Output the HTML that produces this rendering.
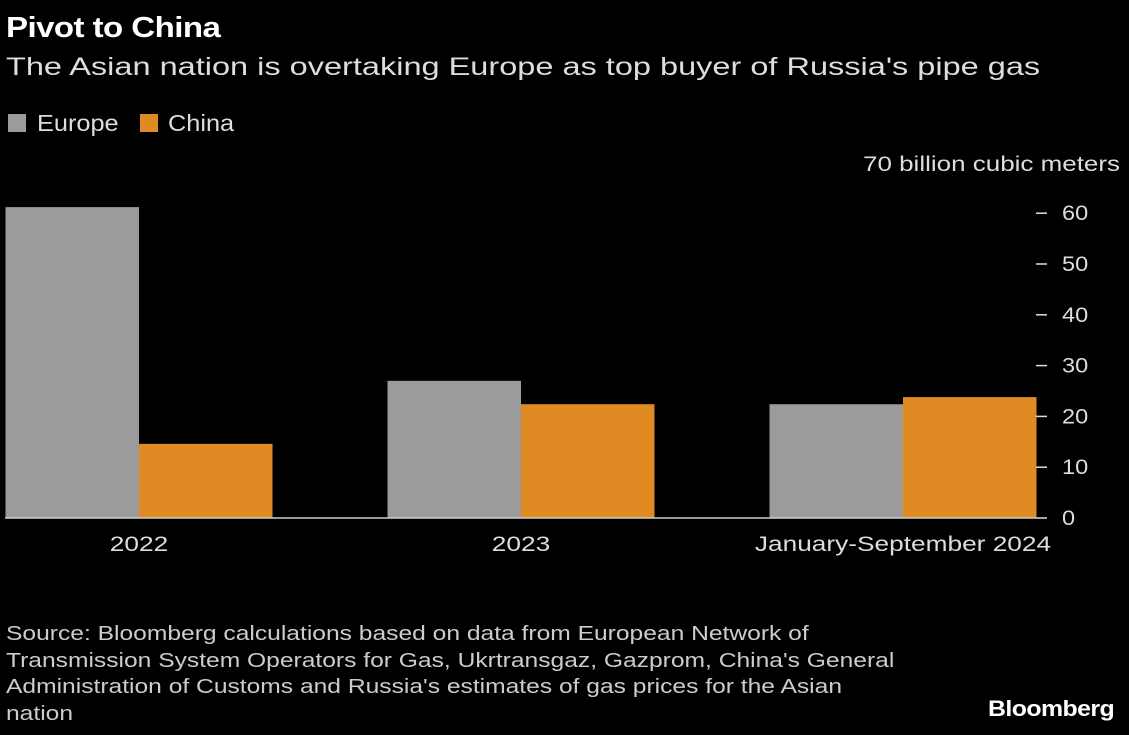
<!DOCTYPE html>
<html><head><meta charset="utf-8"><style>
body{margin:0;background:#000;width:1129px;height:735px;overflow:hidden;font-family:"Liberation Sans",sans-serif;color:#fff}
.t{position:absolute;white-space:nowrap;transform-origin:0 0}
</style></head><body>
<div class="t" style="left:6px;top:12px;font-size:29px;font-weight:bold;letter-spacing:-0.5px;transform:scaleX(1.14)">Pivot to China</div>
<div class="t" style="left:6px;top:53px;font-size:25px;color:#ddd;transform:scaleX(1.30)">The Asian nation is overtaking Europe as top buyer of Russia's pipe gas</div>
<div class="t" style="left:8px;top:110px;font-size:23px;color:#ddd"><span style="display:inline-block;width:18px;height:18px;background:#9b9b9b;margin-right:11px;vertical-align:-1px"></span><span style="display:inline-block;transform:scaleX(1.1);transform-origin:0 0">Europe</span></div>
<div class="t" style="left:140px;top:110px;font-size:23px;color:#ddd"><span style="display:inline-block;width:18px;height:18px;background:#e08a23;margin-right:10px;vertical-align:-1px"></span><span style="display:inline-block;transform:scaleX(1.1);transform-origin:0 0">China</span></div>
<svg id="chart" width="1129" height="735" style="position:absolute;left:0;top:0"></svg>
<div class="t" style="left:6px;top:621px;font-size:20px;line-height:26.5px;color:#ccc;transform:scaleX(1.23)">Source: Bloomberg calculations based on data from European Network of<br>Transmission System Operators for Gas, Ukrtransgaz, Gazprom, China's General<br>Administration of Customs and Russia's estimates of gas prices for the Asian<br>nation</div>
<div class="t" style="left:988px;top:696px;font-size:22px;font-weight:bold;letter-spacing:-0.5px;transform:scaleX(1.13)">Bloomberg</div>
<script>
const categories=["2022","2023","January-September 2024"];
const europe=[61.2,27,22.4];
const china=[14.6,22.4,23.8];
const ticks=[0,10,20,30,40,50,60];
const NS="http://www.w3.org/2000/svg";
const svg=document.getElementById('chart');
const y0=518,pxPer=5.08;
const y=v=>y0-v*pxPer;
const cx=i=>139+i*382;
const bw=133.5;
function mk(tag,attrs){const e=document.createElementNS(NS,tag);for(const k in attrs)e.setAttribute(k,attrs[k]);svg.appendChild(e);return e;}
function stretch(t,f){const w=t.getComputedTextLength();t.setAttribute('textLength',w*f);t.setAttribute('lengthAdjust','spacingAndGlyphs');}
categories.forEach((c,i)=>{
  const a=mk('rect',{x:cx(i)-bw,y:y(europe[i]),width:bw,height:europe[i]*pxPer,fill:'#9b9b9b'});
  
  
  const b=mk('rect',{x:cx(i),y:y(china[i]),width:bw,height:china[i]*pxPer,fill:'#e08a23'});
  
  
  const t=mk('text',{x:cx(i),y:551,'text-anchor':'middle','font-size':21,fill:'#ddd','font-family':'Liberation Sans, sans-serif'});
  t.textContent=c;
  
  
  stretch(t,1.25);
});
const base=mk('line',{x1:5,x2:1036,y1:y0,y2:y0,stroke:'#ccc','stroke-width':1.5});


ticks.forEach(v=>{
  const d=mk('line',{x1:1036,x2:1047,y1:y(v),y2:y(v),stroke:'#ddd','stroke-width':1.5});
  
  
  const t=mk('text',{x:1062,y:y(v)+7,'font-size':21,fill:'#ddd','font-family':'Liberation Sans, sans-serif'});
  t.textContent=String(v);
  
  
  stretch(t,1.12);
});
const u=mk('text',{x:863,y:171,'font-size':21,fill:'#ddd','font-family':'Liberation Sans, sans-serif'});
u.textContent='70 billion cubic meters';


u.setAttribute('textLength',257);
u.setAttribute('lengthAdjust','spacingAndGlyphs');
</script>
</body></html>
